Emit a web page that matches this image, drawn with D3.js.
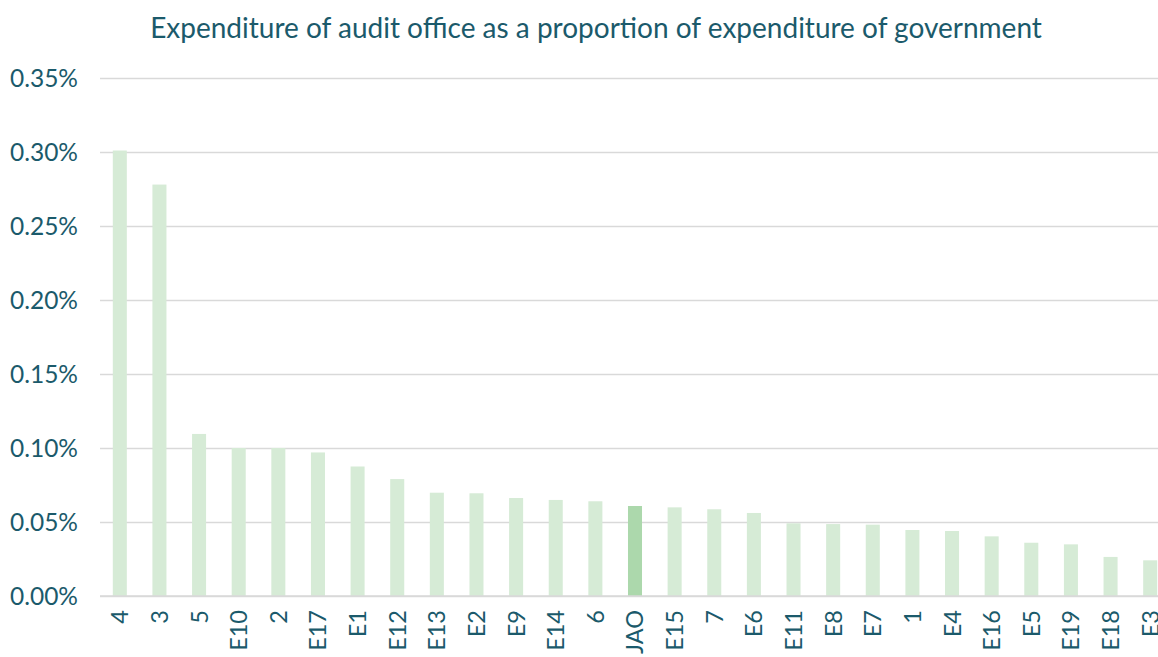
<!DOCTYPE html>
<html>
<head>
<meta charset="utf-8">
<script src="https://cdn.jsdelivr.net/npm/d3@7"></script>
<style>
  html, body { margin: 0; padding: 0; background: #fff; }
  svg { display: block; font-family: Lato, 'Noto Sans', sans-serif; }
</style>
</head>
<body>
<div id="chart"></div>
<script>
const TITLE = 'Expenditure of audit office as a proportion of expenditure of government';

const categories = ['4', '3', '5', 'E10', '2', 'E17', 'E1', 'E12', 'E13', 'E2', 'E9', 'E14', '6',
  'JAO', 'E15', '7', 'E6', 'E11', 'E8', 'E7', '1', 'E4', 'E16', 'E5', 'E19', 'E18', 'E3'];

// percent of government expenditure
const values = [0.301, 0.278, 0.1095, 0.100, 0.100, 0.0970, 0.0875, 0.0790, 0.0698, 0.0694, 0.0662,
  0.0649, 0.0640, 0.0608, 0.0599, 0.0586, 0.0561, 0.0491, 0.0486, 0.0482, 0.0446, 0.0439,
  0.0403, 0.0360, 0.0349, 0.0264, 0.0241];

const yTicks = [0, 0.05, 0.10, 0.15, 0.20, 0.25, 0.30, 0.35];
const highlight = 'JAO';

const W = 1158, H = 657;
const margin = { top: 78, left: 100, right: -12, bottom: 61 };
const textColor = '#1b5a6b';

const svg = d3.select('#chart').append('svg')
  .attr('width', W).attr('height', H);

const x = d3.scaleBand()
  .domain(categories)
  .range([margin.left, W - margin.right])
  .paddingInner(0.646)
  .paddingOuter(0.323);

const y = d3.scaleLinear()
  .domain([0, 0.35])
  .range([H - margin.bottom, margin.top]);

// title
svg.append('text')
  .attr('x', 596).attr('y', 38)
  .attr('text-anchor', 'middle')
  .style('font-size', '28px')
  .style('fill', textColor)
  .text(TITLE);

// grid + y labels
const yAxis = d3.axisLeft(y)
  .tickValues(yTicks)
  .tickSize(-(W - margin.left))
  .tickFormat(d => d.toFixed(2) + '%');

const $yAxis = svg.append('g')
  .attr('transform', `translate(${margin.left},0)`)
  .call(yAxis);

$yAxis.select('.domain').remove();
$yAxis.selectAll('.tick line')
  .attr('stroke', '#d9d9d9')
  .attr('stroke-width', 1.5);
$yAxis.selectAll('.tick text')
  .attr('x', -22)
  .attr('dy', '0.36em')
  .style('font-size', '24.5px')
  .style('font-family', 'Lato, "Noto Sans", sans-serif')
  .style('fill', textColor);

// bars
svg.append('g').selectAll('rect')
  .data(categories)
  .enter().append('rect')
  .attr('x', d => x(d))
  .attr('width', x.bandwidth())
  .attr('y', (d, i) => y(values[i]))
  .attr('height', (d, i) => y(0) - y(values[i]))
  .attr('fill', d => d === highlight ? '#acd8ac' : '#d6ebd6');

// baseline on top of bars
svg.append('line')
  .attr('x1', margin.left).attr('x2', W)
  .attr('y1', y(0)).attr('y2', y(0))
  .attr('stroke', '#d9d9d9')
  .attr('stroke-width', 1.5);

// x labels
const xAxis = d3.axisBottom(x).tickSize(0);
const $xAxis = svg.append('g')
  .attr('transform', `translate(0,${y(0)})`)
  .call(xAxis);
$xAxis.select('.domain').remove();
$xAxis.selectAll('.tick text')
  .attr('transform', 'rotate(-90)')
  .attr('x', -14)
  .attr('y', 0)
  .attr('dy', '0.36em')
  .attr('text-anchor', 'end')
  .style('font-size', '23.5px')
  .style('font-family', 'Lato, "Noto Sans", sans-serif')
  .style('fill', textColor);
</script>
</body>
</html>
